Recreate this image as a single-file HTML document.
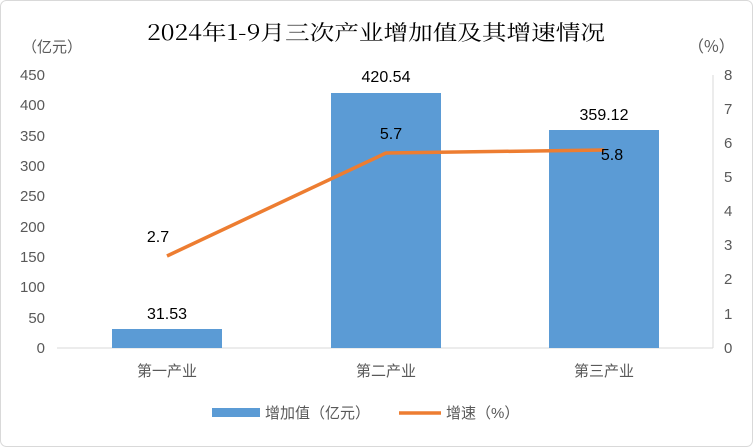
<!DOCTYPE html>
<html><head><meta charset="utf-8"><style>
html,body{margin:0;padding:0;background:#fff;}
svg{display:block;}
</style></head><body>
<svg width="753" height="447" xmlns="http://www.w3.org/2000/svg">
<rect x="0.5" y="0.5" width="752" height="446" rx="6" fill="#fff" stroke="#d9d9d9"/>
<text x="376" y="40" text-anchor="middle" font-family="'Noto Serif CJK SC','Liberation Serif',serif" font-size="21" textLength="458" lengthAdjust="spacingAndGlyphs" fill="#000">2024年1-9月三次产业增加值及其增速情况</text>
<g font-family="'Liberation Sans','Noto Sans CJK SC',sans-serif" font-size="15" fill="#595959">
<text x="22" y="52">（亿元）</text>
<text x="688" y="52" font-family="'Noto Sans CJK SC',sans-serif" font-size="16">（%）</text>
<g text-anchor="end">
<text x="45" y="80">450</text><text x="45" y="110">400</text><text x="45" y="141">350</text>
<text x="45" y="171">300</text><text x="45" y="201">250</text><text x="45" y="232">200</text>
<text x="45" y="262">150</text><text x="45" y="292">100</text><text x="45" y="323">50</text>
<text x="45" y="353">0</text>
</g>
<g text-anchor="start">
<text x="724" y="80">8</text><text x="724" y="114">7</text><text x="724" y="148">6</text>
<text x="724" y="182">5</text><text x="724" y="216">4</text><text x="724" y="250">3</text>
<text x="724" y="284">2</text><text x="724" y="319">1</text><text x="724" y="353">0</text>
</g>
<g text-anchor="middle">
<text x="167" y="376">第一产业</text><text x="386" y="376">第二产业</text><text x="604" y="376">第三产业</text>
</g>
</g>
<line x1="57" y1="348" x2="713" y2="348" stroke="#d9d9d9"/>
<line x1="713" y1="75" x2="713" y2="348" stroke="#d9d9d9"/>
<rect x="112" y="329" width="110" height="19" fill="#5b9bd5"/>
<rect x="331" y="93" width="110" height="255" fill="#5b9bd5"/>
<rect x="549" y="130" width="110" height="218" fill="#5b9bd5"/>
<polyline points="167,256 386,153 604,150" fill="none" stroke="#ed7d31" stroke-width="3.5" stroke-linejoin="round"/>
<g font-family="'Liberation Sans',sans-serif" font-size="16" fill="#000" text-anchor="middle">
<text x="167" y="319">31.53</text>
<text x="386" y="82">420.54</text>
<text x="604" y="120">359.12</text>
<text x="158" y="242">2.7</text>
<text x="391" y="139">5.7</text>
<text x="612" y="160">5.8</text>
</g>
<rect x="212" y="408" width="48" height="9" fill="#5b9bd5"/>
<line x1="399" y1="413" x2="441" y2="413" stroke="#ed7d31" stroke-width="3.5"/>
<g font-family="'Liberation Sans','Noto Sans CJK SC',sans-serif" font-size="15" fill="#595959">
<text x="265" y="418">增加值（亿元）</text>
<text x="446" y="418">增速（%）</text>
</g>
</svg>
</body></html>
